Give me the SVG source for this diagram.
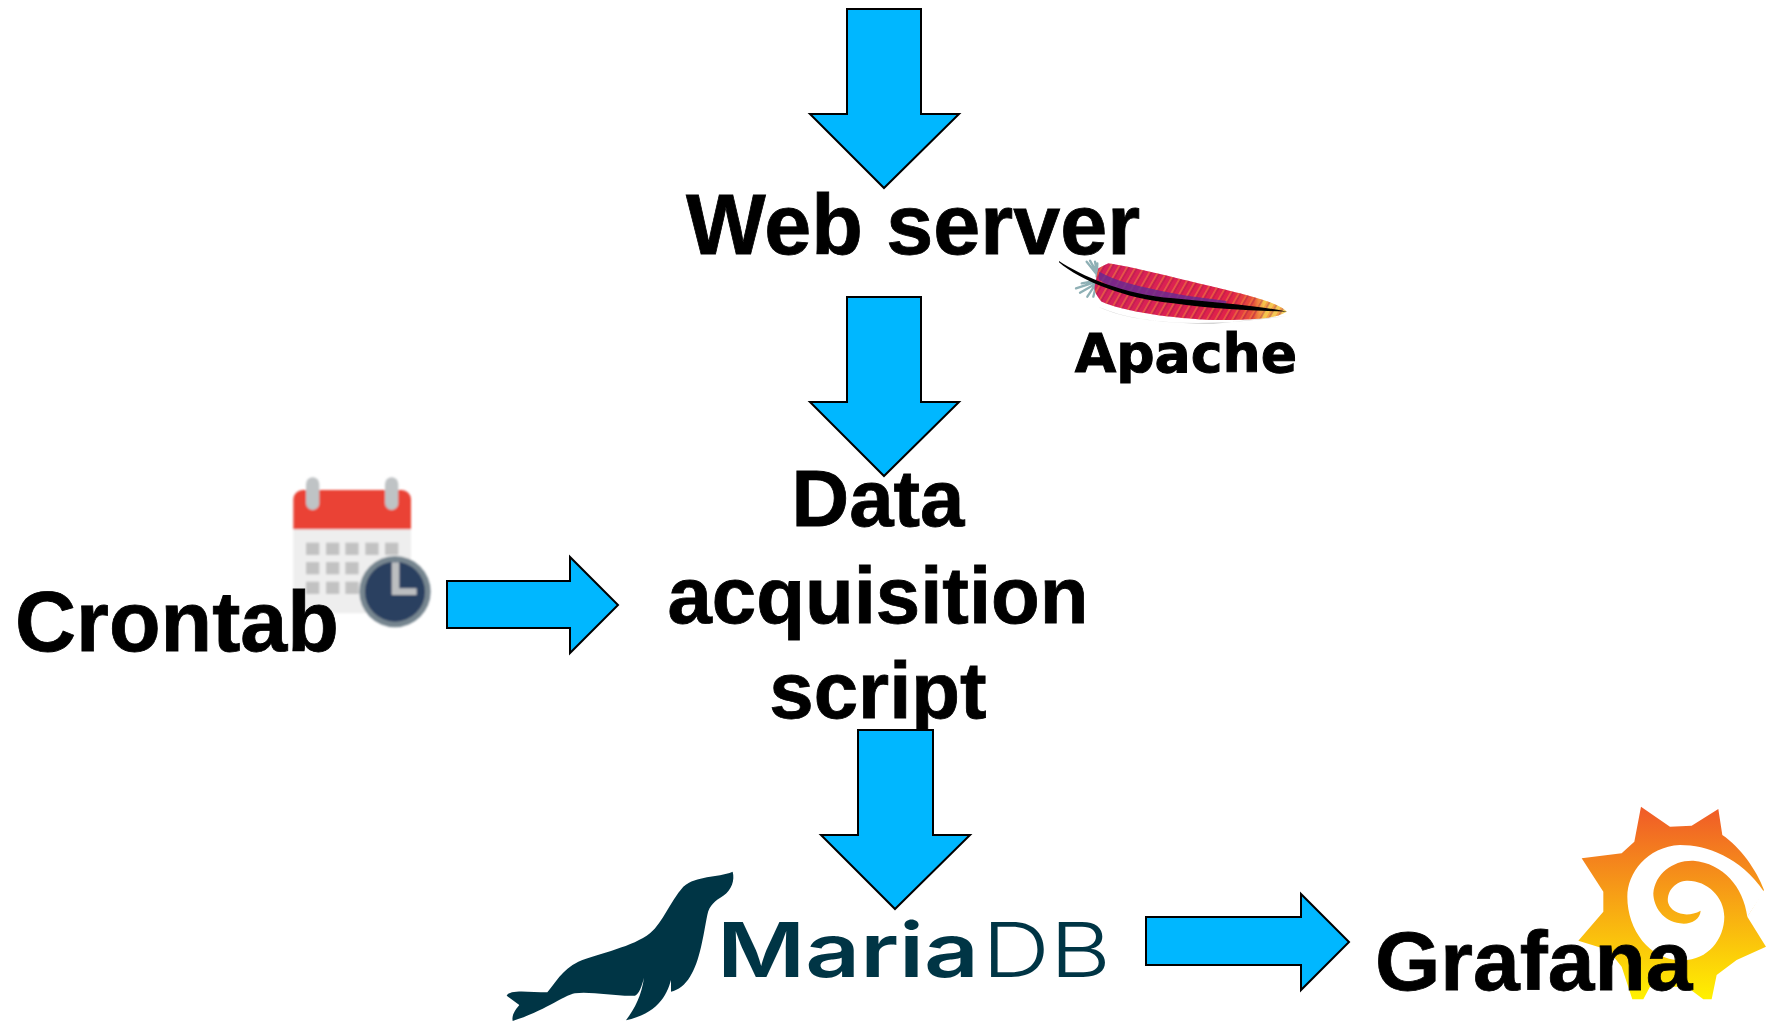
<svg xmlns="http://www.w3.org/2000/svg" width="1766" height="1021" viewBox="0 0 1766 1021">
<style>
.lbl{font-family:"Liberation Sans",Arial,sans-serif;font-weight:700;fill:#000;stroke:#000;stroke-width:.8}
.arrow{fill:#00b7ff;stroke:#000;stroke-width:2;stroke-linejoin:miter}
.sq{fill:#c2c2c2}
.ring{fill:#bfc3c5}
.maria{font-family:Inter,"Liberation Sans",sans-serif;fill:#003545;font-size:75px}
.tuft{fill:none;stroke:#8fb0b5;stroke-width:7;stroke-linecap:round}
</style>
<defs>
<linearGradient id="sun" gradientUnits="userSpaceOnUse" x1="0" y1="50" x2="0" y2="628"><stop offset="0" stop-color="#f05a28"/><stop offset="1" stop-color="#fff100"/></linearGradient>
<linearGradient id="feath" gradientUnits="userSpaceOnUse" x1="165" y1="0" x2="740" y2="0"><stop offset="0" stop-color="#d4205c"/><stop offset=".7" stop-color="#e0204a"/><stop offset=".83" stop-color="#e8553a"/><stop offset=".88" stop-color="#f5c34b"/><stop offset="1" stop-color="#f3cf62"/></linearGradient>
<pattern id="barb" width="22" height="22" patternUnits="userSpaceOnUse" patternTransform="rotate(30)"><rect width="6" height="22" fill="#f0803c" fill-opacity=".55"/><rect x="6" width="4" height="22" fill="#a01848" fill-opacity=".5"/></pattern>
<filter id="soft" x="-5%" y="-5%" width="110%" height="110%"><feGaussianBlur stdDeviation="2.6"/></filter>
<filter id="soft2" x="-5%" y="-5%" width="110%" height="110%"><feGaussianBlur stdDeviation="1.6"/></filter>
<filter id="soft3" x="-2%" y="-2%" width="104%" height="104%"><feGaussianBlur stdDeviation=".6"/></filter>
</defs>
<rect width="1766" height="1021" fill="#fff"/>

<g id="apache-logo" transform="translate(1040,240) scale(.3333)">
<g filter="url(#soft2)">
<path d="M175 200C300 255 500 262 740 228L520 252C380 250 250 238 175 200Z" fill="#d4d4d4"/>
<path class="tuft" d="M140 65L172 105M150 62L172 100M165 65L172 105M172 70L170 110M108 145L170 125M120 158L170 130M142 170L170 128M160 170L170 130M125 130L170 122"/>
<path id="feather-body" d="M175 85L205 70C300 85 450 125 560 150C640 170 720 190 740 215C700 240 620 240 520 240C400 235 250 215 185 185C170 170 160 150 165 135Z" fill="url(#feath)"/>
<path d="M175 85L205 70C300 85 450 125 560 150C640 170 720 190 740 215C700 240 620 240 520 240C400 235 250 215 185 185C170 170 160 150 165 135Z" fill="url(#barb)"/>
<path d="M178 95C230 125 300 140 400 160C450 170 500 175 560 183L555 198C470 192 380 182 300 165C250 155 205 140 176 118Z" fill="#6b2a90" fill-opacity=".85"/>
<path d="M57 63C120 105 250 165 400 175C520 187 640 195 742 215C640 212 520 208 400 190C260 178 120 122 57 67Z" fill="#000"/>
</g>
<text x="104" y="395" style="font-family:'DejaVu Sans',sans-serif;font-weight:700;font-size:161px;fill:#000;stroke:#000;stroke-width:3">Apache</text>
</g>

<g id="calendar-icon" transform="translate(270,460) scale(.3333)">
<g filter="url(#soft)">
<rect x="70" y="90" width="353" height="370" rx="28" fill="#eeeeee"/>
<path d="M70 208V118A28 28 0 0 1 98 90H395A28 28 0 0 1 423 118V208Z" fill="#ea4335"/>
<rect class="ring" x="108" y="52" width="40" height="98" rx="20"/>
<rect class="ring" x="345" y="52" width="40" height="98" rx="20"/>
<rect class="sq" x="108" y="248" width="40" height="37"/><rect class="sq" x="168" y="248" width="40" height="37"/><rect class="sq" x="226" y="248" width="40" height="37"/><rect class="sq" x="286" y="248" width="40" height="37"/><rect class="sq" x="345" y="248" width="40" height="37"/>
<rect class="sq" x="108" y="306" width="40" height="37"/><rect class="sq" x="168" y="306" width="40" height="37"/><rect class="sq" x="226" y="306" width="40" height="37"/>
<rect class="sq" x="108" y="365" width="40" height="37"/><rect class="sq" x="168" y="365" width="40" height="37"/><rect class="sq" x="226" y="365" width="40" height="37"/>
<circle cx="375" cy="395" r="107" fill="#76858f"/>
<circle cx="375" cy="395" r="90" fill="#2b3f60"/>
<path d="M365 307H388V385H440V405H365Z" fill="#bcbec0"/>
</g>
</g>

<g id="mariadb-logo" filter="url(#soft3)">
<path transform="translate(500,865) scale(.3333)" d="M698 20C705 45 695 75 670 92C645 108 628 120 622 150C610 210 600 290 570 335C555 360 535 375 513 380L513 345C500 395 470 445 378 466C405 430 425 390 432 338C425 365 418 385 405 392C350 395 270 378 225 385C190 392 130 440 38 468C35 450 45 435 58 420L20 392C30 372 90 382 142 382C165 355 185 315 235 290C300 265 400 245 450 205C490 170 510 110 550 65C590 30 650 40 698 20Z" fill="#003545"/>
<text class="maria" x="717" y="977" textLength="262" lengthAdjust="spacingAndGlyphs" font-weight="600">Maria</text>
<text class="maria" x="982" y="977" textLength="129" lengthAdjust="spacingAndGlyphs" font-weight="300">DB</text>
</g>

<g id="grafana-logo" transform="translate(1540,790) scale(.3333)">
<path d="M303 50L390 110L455 107L535 57L547 135C600 170 650 240 672 300L622 380L678 470L590 510L530 555L515 628L490 628L440 590L330 590L310 628L277 628L245 530L205 480L115 452L190 365L190 305L125 205L245 190L283 155Z" fill="url(#sun)"/>
<path d="M672 305C600 200 500 165 420 165C320 170 262 250 262 320C262 420 330 510 420 510C500 515 553 450 553 380C553 320 500 270 440 272C400 275 378 310 385 340C395 370 440 385 482 362C480 390 450 405 420 400C370 395 340 350 340 310C345 250 400 210 460 212C550 220 610 290 622 380Z" fill="#fff"/>
</g>

<g id="label-crontab"><text class="lbl" x="15" y="651" font-size="84.5">Crontab</text></g>
<g id="label-webserver"><text class="lbl" x="913" y="254" font-size="84.5" text-anchor="middle">Web server</text></g>
<g id="label-script">
<text class="lbl" x="878" y="526" font-size="79.8" text-anchor="middle">Data</text>
<text class="lbl" x="878" y="623" font-size="79.8" text-anchor="middle">acquisition</text>
<text class="lbl" x="878" y="718" font-size="79.8" text-anchor="middle">script</text>
</g>
<g id="label-grafana"><text class="lbl" x="1375" y="990" font-size="84">Grafana</text></g>

<g id="connectors">
<path class="arrow" d="M847 9H921V114H959L884 188L810 114H847Z"/>
<path class="arrow" d="M847 297H921V402H959L884 476L810 402H847Z"/>
<path class="arrow" d="M447 581H570V557L618 605L570 653V628H447Z"/>
<path class="arrow" d="M858 730H933V835H970L895 909L821 835H858Z"/>
<path class="arrow" d="M1146 917H1301V894L1349 942L1301 990V965H1146Z"/>
</g>
</svg>
